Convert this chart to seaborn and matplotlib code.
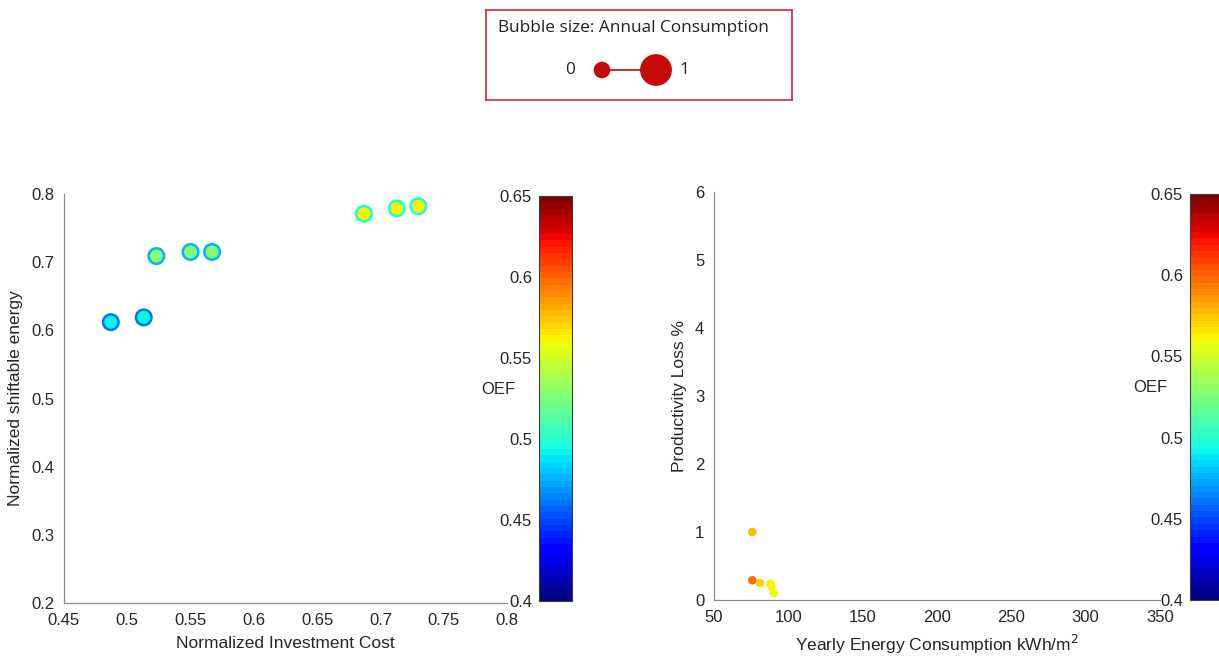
"""
two bubble charts: shiftable energy vs investment cost, and
productivity loss vs yearly energy consumption, coloured by OEF
"""

import numpy as np
import pandas as pd
import seaborn as sns
import matplotlib
import matplotlib.pyplot as plt

#############################
# data
inv_cost = [0.487, 0.513, 0.523, 0.550, 0.567, 0.687, 0.713, 0.730]
shift_energy = [0.612, 0.619, 0.709, 0.715, 0.715, 0.771, 0.779, 0.782]
oef_face = [0.492, 0.492, 0.527, 0.527, 0.527, 0.562, 0.562, 0.562]
oef_edge = [0.462, 0.462, 0.476, 0.476, 0.476, 0.497, 0.497, 0.497]

yearly_cons = [75.8, 75.8, 80.9, 88.0, 88.6, 90.3]
prod_loss = [1.00, 0.29, 0.25, 0.24, 0.20, 0.10]
oef_right = [0.577, 0.597, 0.570, 0.562, 0.562, 0.560]

legend_vals = ["0", "1"]
legend_sizes = [120, 480]
#############################

left_df = pd.DataFrame({"cost": inv_cost, "shift": shift_energy, "oef": oef_face})
right_df = pd.DataFrame({"cons": yearly_cons, "loss": prod_loss, "oef": oef_right})

sns.set_style("white")
plt.rcParams['font.family'] = ['Liberation Sans', 'DejaVu Sans']
plt.rcParams['text.color'] = '#262626'
plt.rcParams['axes.labelcolor'] = '#262626'
plt.rcParams['xtick.color'] = '#262626'
plt.rcParams['ytick.color'] = '#262626'

cmap = plt.get_cmap("jet", 64)
norm = matplotlib.colors.Normalize(vmin=0.4, vmax=0.65)
axis_gray = '#8c8c8c'

fig = plt.figure(figsize=(12.19, 6.57), dpi=100)
ax1 = fig.add_axes([0.0525, 0.0822, 0.3634, 0.6225])
ax2 = fig.add_axes([0.5857, 0.0868, 0.3659, 0.621])
cax1 = fig.add_axes([0.4422, 0.0852, 0.0271, 0.6165])
cax2 = fig.add_axes([0.9762, 0.0868, 0.0271, 0.618])

# left panel
sns.scatterplot(data=left_df, x="cost", y="shift", hue="oef", palette=cmap,
                hue_norm=norm, s=125, edgecolor=[cmap(norm(v)) for v in oef_edge],
                linewidth=1.8, legend=False, ax=ax1)
ax1.set_xlim(0.45, 0.8)
ax1.set_ylim(0.2, 0.8)
ax1.set_xticks(np.arange(0.45, 0.801, 0.05))
ax1.set_xticklabels(["0.45", "0.5", "0.55", "0.6", "0.65", "0.7", "0.75", "0.8"])
ax1.set_yticks(np.arange(0.2, 0.801, 0.1))
ax1.set_yticklabels(["0.2", "0.3", "0.4", "0.5", "0.6", "0.7", "0.8"])
ax1.set_xlabel("Normalized Investment Cost", fontsize=12.5, labelpad=6)
ax1.set_ylabel("Normalized shiftable energy", fontsize=12.5, labelpad=6)

# right panel
sns.scatterplot(data=right_df, x="cons", y="loss", hue="oef", palette=cmap,
                hue_norm=norm, s=38, linewidth=0, legend=False, ax=ax2)
ax2.set_xlim(50, 350)
ax2.set_ylim(0, 6)
ax2.set_xticks(np.arange(50, 351, 50))
ax2.set_yticks(np.arange(0, 7, 1))
ax2.set_xlabel("Yearly Energy Consumption kWh/m$^2$", fontsize=12.5, labelpad=6)
ax2.set_ylabel("Productivity Loss %", fontsize=12.5, labelpad=6)

for ax in (ax1, ax2):
    sns.despine(ax=ax)
    for sp in ("left", "bottom"):
        ax.spines[sp].set_color(axis_gray)
        ax.spines[sp].set_linewidth(0.9)
    ax.tick_params(direction="in", length=4, color=axis_gray, labelsize=12, pad=7)
    ax.patch.set_alpha(0)

# colorbars
for cax in (cax1, cax2):
    sm = plt.cm.ScalarMappable(cmap=cmap, norm=norm)
    sm.set_array([])
    cbar = fig.colorbar(sm, cax=cax)
    cbar.set_ticks([0.4, 0.45, 0.5, 0.55, 0.6, 0.65])
    cbar.set_ticklabels(["0.4", "0.45", "0.5", "0.55", "0.6", "0.65"])
    cax.yaxis.set_ticks_position("left")
    cax.yaxis.set_label_position("left")
    cax.tick_params(direction="in", length=3, color='#404040', labelsize=12, pad=5)
    cbar.outline.set_edgecolor('#404040')
    cbar.outline.set_linewidth(0.8)

fig.text(498 / 1219, 1 - 390 / 657, "OEF", ha="center", va="center", fontsize=12)
fig.text(1150 / 1219, 1 - 387 / 657, "OEF", ha="center", va="center", fontsize=12)

# bubble size legend box
lax = fig.add_axes([486 / 1219, 1 - 100 / 657, 306 / 1219, 90 / 657])
lax.set_xlim(0, 306)
lax.set_ylim(90, 0)
lax.set_xticks([])
lax.set_yticks([])
for sp in lax.spines.values():
    sp.set_visible(True)
    sp.set_color('#d42a2a')
    sp.set_linewidth(1.2)
lax.text(12, 18, "Bubble size: Annual Consumption", ha="left", va="center",
         fontsize=12.4, family=["Open Sans", "DejaVu Sans"], color='#222222')
red = '#c40a0a'
leg_x = [116, 170]
lax.plot(leg_x, [60, 60], color=red, lw=1.2, zorder=1)
lax.scatter(leg_x, [60, 60], s=legend_sizes, color=red, zorder=2)
lax.text(84, 60, legend_vals[0], ha="center", va="center", fontsize=12.4,
         family=["Open Sans", "DejaVu Sans"])
lax.text(198, 60, legend_vals[1], ha="center", va="center", fontsize=12.4,
         family=["Open Sans", "DejaVu Sans"])

plt.savefig("out.png", dpi=100)
